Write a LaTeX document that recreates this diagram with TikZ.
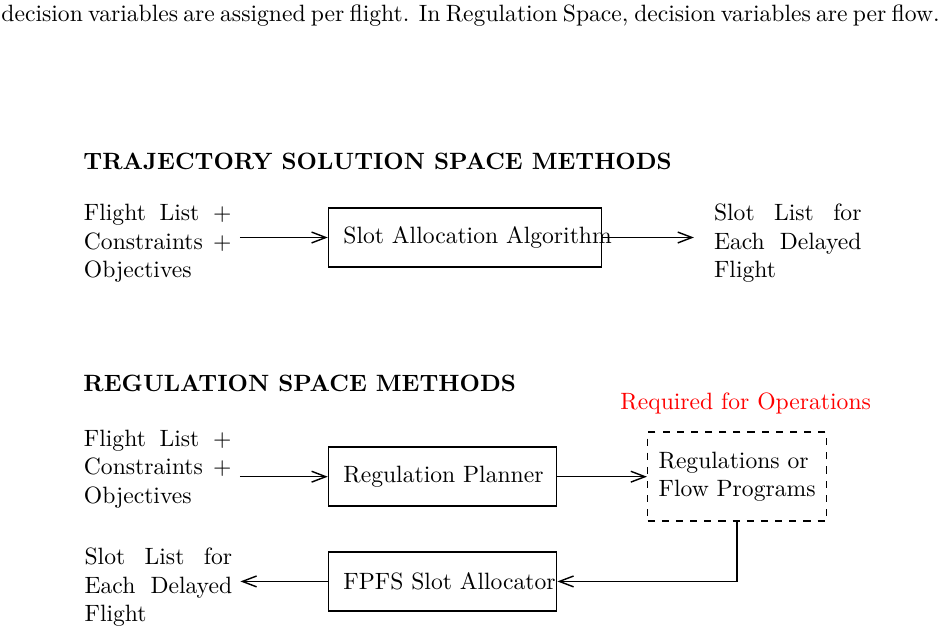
\documentclass[tikz,border=0pt]{standalone}
\usetikzlibrary{positioning,arrows.meta}
\tikzset{
  basebox/.style={rectangle,draw,semithick,inner xsep=6.36pt,minimum height=25pt,
                  align=center},
  algbox/.style={basebox,text width=103pt},
  planbox/.style={basebox,text width=84pt},
  dashbox/.style={rectangle,draw,semithick,dashed,minimum width=75.8pt,
                  minimum height=37.7pt,align=left},
  txtnode/.style={text width=62.5pt,align=justify},
  headnode/.style={anchor=base west,inner sep=0pt,font=\bfseries},
  arr/.style={-{Straight Barb[length=6pt,width=4.6pt]},semithick}
}

\begin{document}
\begin{tikzpicture}
  \useasboundingbox (0,0) rectangle (14.088,-9.456);

  % caption line
  \node[anchor=base west,inner sep=0pt] (cap) at (0.015,-0.323)
      {\hbox to 397.5pt{decision variables are assigned per flight.  In Regulation Space, decision variables are per flow.}};

  % Trajectory solution space
  \node[headnode] (head1) at (1.236,-2.521) {TRAJECTORY SOLUTION SPACE METHODS};
  \node[algbox] (alloc) at (6.925,-3.537) {\mbox{Slot Allocation Algorithm}};
  \node[txtnode, left=1.31cm of alloc, yshift=-0.086cm] (in1)
      {Flight List + Constraints + Objectives};
  \node[txtnode, right=1.54cm of alloc, yshift=-0.086cm] (out1)
      {Slot List for Each Delayed Flight};

  % Regulation space
  \node[headnode] (head2) at (1.236,-5.833) {REGULATION SPACE METHODS};
  \node[planbox, below=3.562cm of alloc.west, anchor=west] (plan)
      {\mbox{Regulation Planner}};
  \node[txtnode, left=1.31cm of plan, yshift=0.115cm] (in2)
      {Flight List + Constraints + Objectives};
  \node[dashbox, right=1.333cm of plan] (reg) {Regulations or\\Flow Programs};
  \node[anchor=base west,inner sep=0pt,text=red] (req) at (9.233,-6.091)
      {Required for Operations};
  \node[planbox, below=0.66cm of plan] (fpfs) {\mbox{FPFS Slot Allocator}};
  \node[txtnode, left=1.3cm of fpfs, yshift=-0.086cm] (out2)
      {Slot List for Each Delayed Flight};

  % Arrows
  \draw[arr] (in1.east |- alloc.west) -- (alloc.west);
  \draw[arr,shorten >=5pt] (alloc.east) -- (out1.west |- alloc.east);
  \draw[arr] (in2.east |- plan.west) -- (plan.west);
  \draw[arr] (plan.east) -- (reg.west |- plan.east);
  \draw[arr] (reg.south) |- (fpfs.east);
  \draw[arr] (fpfs.west) -- (out2.east |- fpfs.west);

\end{tikzpicture}
\end{document}
